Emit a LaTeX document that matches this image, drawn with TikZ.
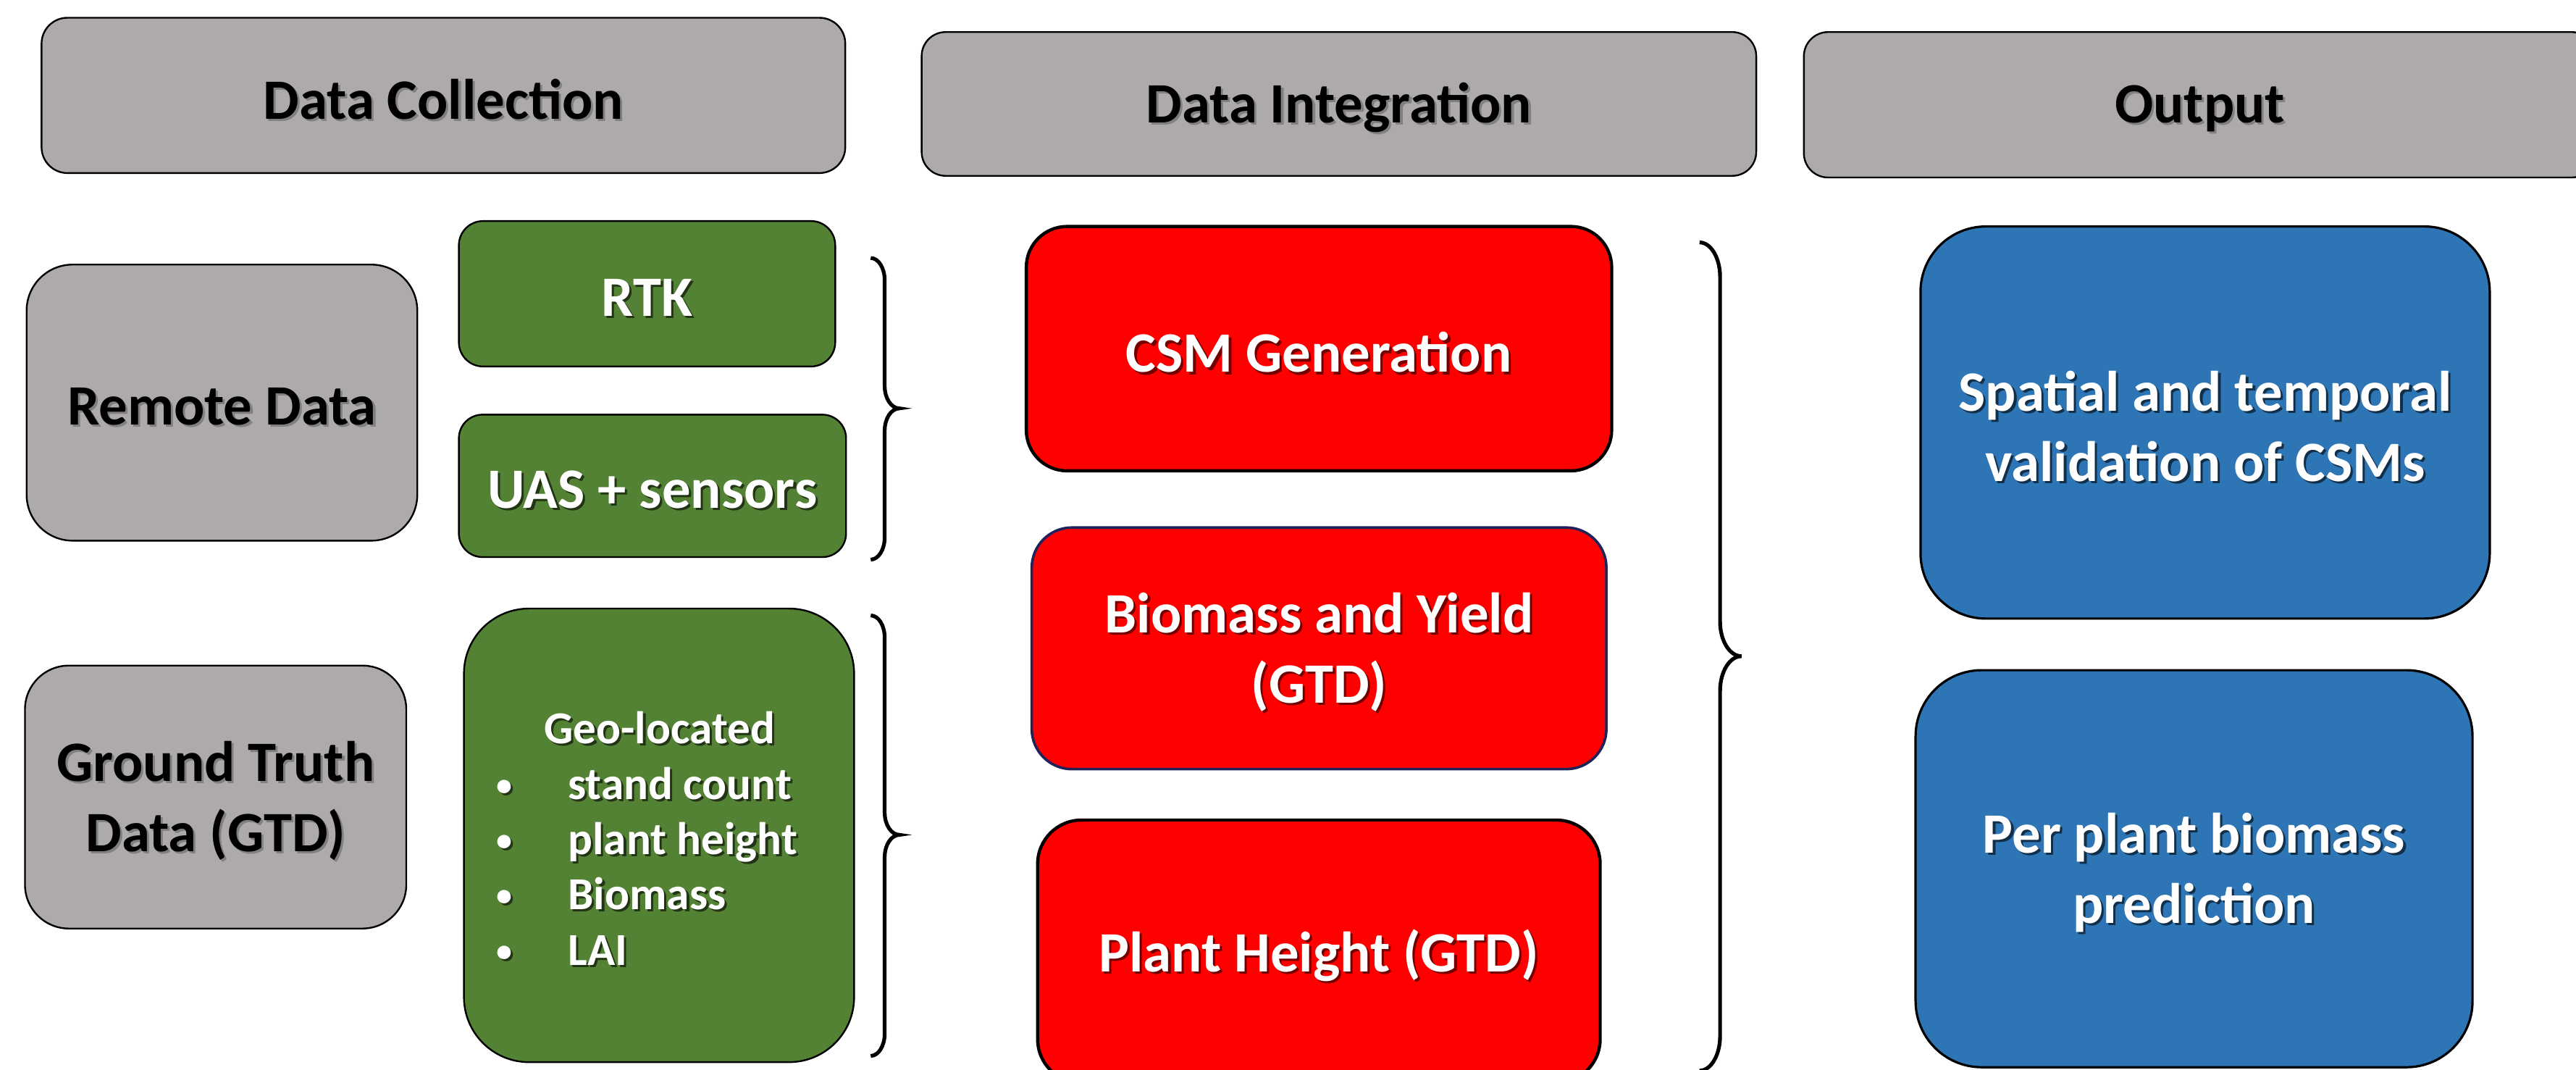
\documentclass[tikz,border=0pt]{standalone}
\usepackage{fontspec}
\setmainfont{Carlito}
\definecolor{hdrgray}{HTML}{AEAAAA}
\definecolor{leafgreen}{HTML}{548235}
\definecolor{boxred}{HTML}{FF0000}
\definecolor{boxblue}{HTML}{2E75B6}
\definecolor{navyline}{HTML}{22225A}
\newlength\pxu
\setlength\pxu{0.5671pt}
% text with a soft drop shadow, set a little low in its box
\newcommand\shcol{black}
\newcommand\sh[1]{\raisebox{-1.7pt}[\height][\depth]{%
  \makebox[0pt][l]{\hspace*{0.8pt}\raisebox{-0.8pt}{\textcolor{\shcol}{#1}}}#1}}
% small list bullet
\newcommand\lbullet{\raisebox{1.4pt}{\fontsize{11}{11}\selectfont •}}
% rounded box from its corners (x1,y1)-(x2,y2), corner radius 1/6 of the shorter side
\newcommand\pbox[7]{%
  \node[#2, minimum width={(#5-#3)*\pxu}, minimum height={(#6-#4)*\pxu},
        rounded corners={min(#5-#3,#6-#4)/6*\pxu}]
        (#1) at ({(#3+#5)/2},{(#4+#6)/2}) {#7};}
% curly brace opening to the right: x0 x1 x2 ytop ymid ybot r
\newcommand\groupbrace[7]{%
  \draw[bracestyle] (#1,#4)
    .. controls ({#1+0.55*(#2-#1)},#4) and (#2,{#4+#7-0.55*#7}) .. (#2,{#4+#7})
    -- (#2,{#5-#7})
    .. controls (#2,{#5-#7+0.55*#7}) and ({#3-0.55*(#3-#2)},#5) .. (#3,#5)
    .. controls ({#3-0.55*(#3-#2)},#5) and (#2,{#5+#7-0.55*#7}) .. (#2,{#5+#7})
    -- (#2,{#6-#7})
    .. controls (#2,{#6-#7+0.55*#7}) and ({#1+0.55*(#2-#1)},#6) .. (#1,#6);}
\tikzset{
  base/.style={draw, inner sep=0pt, outer sep=0pt, align=center,
    font=\fontsize{19.7}{24.2}\selectfont\bfseries},
  hdr/.style={base, fill=hdrgray, line width=0.6pt, text=black,
    execute at begin node={\def\shcol{black!50}}},
  grn/.style={base, fill=leafgreen, line width=0.6pt, text=white,
    execute at begin node={\def\shcol{leafgreen!40!black}}},
  redbox/.style={base, fill=boxred, line width=1.1pt, text=white,
    execute at begin node={\def\shcol{boxred!45!black}}},
  bluebox/.style={base, fill=boxblue, line width=0.8pt, text=white,
    execute at begin node={\def\shcol{boxblue!40!black}}},
  listtext/.style={inner sep=0pt, outer sep=0pt, text=white,
    font=\fontsize{15.8}{19.3}\selectfont\bfseries,
    execute at begin node={\def\shcol{leafgreen!40!black}}},
  bracestyle/.style={line width=1.3pt, draw=black}
}
\begin{document}
\begin{tikzpicture}[x=\pxu, y=-\pxu]
\useasboundingbox (0,0) rectangle (1568,651);
\clip (0,0) rectangle (1568,651);
\fill[white] (0,0) rectangle (1568,651);

% column headers
\pbox{hdrcollect}{hdr}{25.3}{10.8}{514.5}{105.3}{\sh{Data Collection}}
\pbox{hdrintegr}{hdr}{561}{19.5}{1069}{107}{\sh{Data Integration}}
\pbox{hdroutput}{hdr}{1098}{19.5}{1580}{108}{\sh{Output}}

% data collection
\pbox{remote}{hdr}{16.2}{161}{254}{329}{\sh{Remote Data}}
\pbox{gtd}{hdr}{15.2}{405}{247.3}{565}{\sh{Ground Truth}\\\sh{Data (GTD)}}
\pbox{rtk}{grn}{279.3}{134.5}{508.4}{223}{\sh{RTK}}
\pbox{uas}{grn}{279.3}{252.3}{515}{339}{\sh{UAS + sensors}}
\pbox{geo}{grn}{282.4}{370.3}{519.9}{646.3}{}
\node[listtext, anchor=base] (geotitle) at (401.5,449.5) {\sh{Geo-located}};
\foreach \y/\item [count=\i] in {483.5/stand count, 517/plant height, 550.5/Biomass, 584.5/LAI}{
  \node[listtext, anchor=base] (geob\i) at (307,\y) {\sh{\lbullet}};
  \node[listtext, anchor=base west] (geoi\i) at (345.8,\y) {\sh{\item}};
}

% data integration
\pbox{csm}{redbox}{624.7}{137.8}{981}{286.5}{\sh{CSM Generation}}
\pbox{bioyield}{redbox, draw=navyline, line width=0.9pt}{628}{321}{977.8}{468}{\sh{Biomass and Yield}\\\sh{(GTD)}}
\pbox{plheight}{redbox}{631.6}{499}{974}{659}{\sh{Plant Height (GTD)}}

% output
\pbox{spatial}{bluebox}{1169}{137.8}{1515.5}{376.4}{\sh{Spatial and temporal}\\\sh{validation of CSMs}}
\pbox{perplant}{bluebox}{1166}{407.8}{1505}{649.4}{\sh{Per plant biomass}\\\sh{prediction}}

% grouping braces
\groupbrace{530}{538.5}{547.5}{157}{248.5}{340.5}{13.5}
\groupbrace{530}{538.5}{547.5}{374.5}{508}{642.5}{13.5}
\groupbrace{1034.5}{1047}{1060}{147.5}{399.3}{651.5}{21}
\end{tikzpicture}
\end{document}
